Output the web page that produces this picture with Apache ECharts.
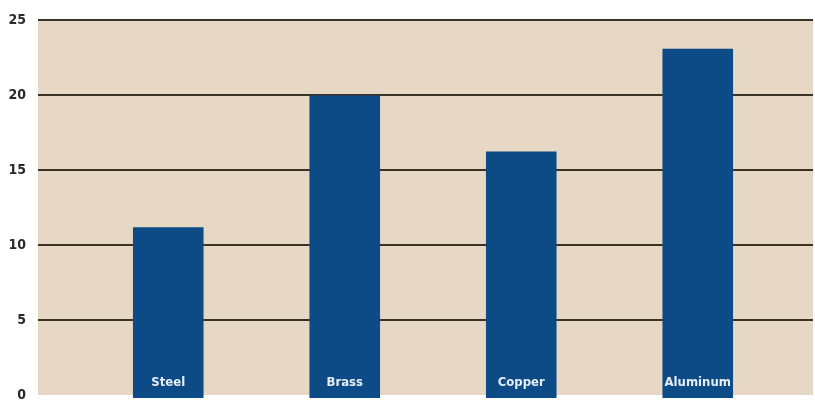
<!DOCTYPE html>
<html><head><meta charset="utf-8">
<script src="https://cdn.jsdelivr.net/npm/echarts@6/dist/echarts.min.js"></script>
<style>html,body{margin:0;padding:0;background:#fff}#c{width:815px;height:402px}</style>
</head><body><div id="c"></div>
<script>
const categories = ['Steel', 'Brass', 'Copper', 'Aluminum'];
const values = [11.3, 20.0, 16.3, 23.1];
const yTicks = [0, 5, 10, 15, 20, 25];

const FONT = '"Liberation Sans Narrow", "DejaVu Sans Condensed", "Roboto Condensed", sans-serif';
const chart = echarts.init(document.getElementById('c'));
const yMin = yTicks[0], yMax = yTicks[yTicks.length - 1], yStep = yTicks[1] - yTicks[0];
const lineColors = yTicks.map((t, i) => i === 0 ? 'rgba(0,0,0,0)' : '#3b3226');
chart.setOption({
  animation: false,
  backgroundColor: '#ffffff',
  grid: [
    { left: 80, right: 29, top: 20, bottom: 4 },
    { left: 38, right: 2, top: 20, bottom: 4, show: true, backgroundColor: '#e7d7c5', borderWidth: 0 }
  ],
  xAxis: [
    { type: 'category', gridIndex: 0, data: categories, axisLine: { show: false }, axisTick: { show: false }, axisLabel: { show: false } },
    { type: 'category', gridIndex: 1, data: [''], show: false }
  ],
  yAxis: [
    { type: 'value', gridIndex: 0, min: yMin, max: yMax, interval: yStep, show: false },
    { type: 'value', gridIndex: 1, min: yMin, max: yMax, interval: yStep,
      axisLine: { show: false }, axisTick: { show: false },
      axisLabel: { color: '#2a2a2a', fontFamily: FONT, fontWeight: 'bold', fontSize: 14, margin: 12 },
      splitLine: { show: true, lineStyle: { color: lineColors, width: 2 } }
    }
  ],
  series: [
    { type: 'bar', xAxisIndex: 1, yAxisIndex: 1, data: [], silent: true },
    { type: 'bar', xAxisIndex: 0, yAxisIndex: 0, data: values, barWidth: '40%', z: 5,
      itemStyle: { color: '#0d4b87' },
      label: { show: true, position: 'insideBottom', distance: 9, formatter: p => p.name,
        color: '#e6edf5', fontFamily: FONT, fontWeight: 'bold', fontSize: 13 }
    }
  ]
});
</script></body></html>
